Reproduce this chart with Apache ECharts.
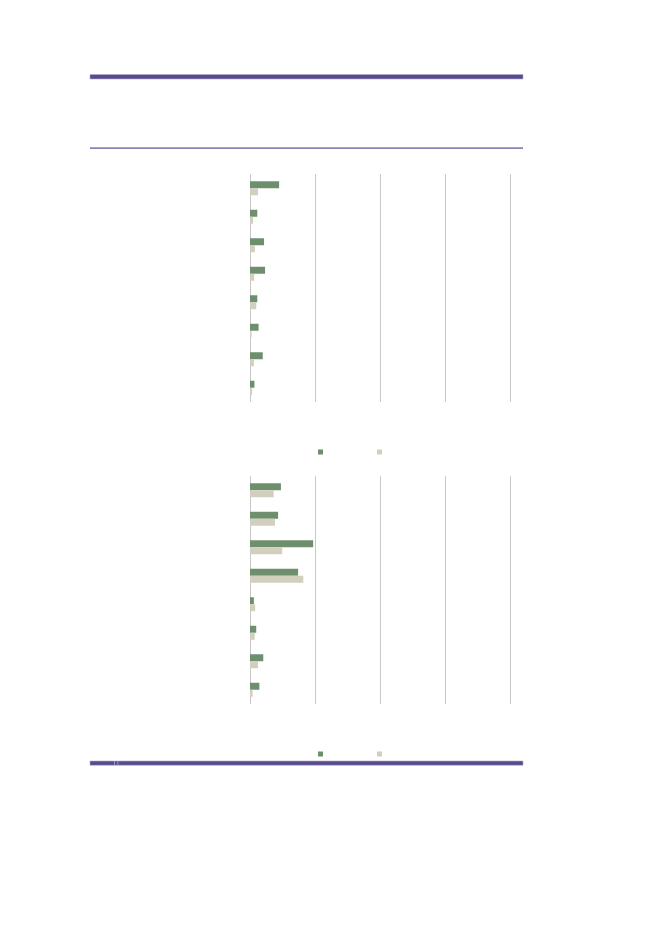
<!DOCTYPE html>
<html>
<head>
<meta charset="utf-8">
<script src="https://cdn.jsdelivr.net/npm/echarts@6/dist/echarts.min.js"></script>
<style>
html,body{margin:0;padding:0;background:#fff;}
#chart{width:661px;height:933px;}
</style>
</head>
<body>
<div id="chart"></div>
<script>
// Categories (labels not shown in the reference)
const categories1 = ['c1','c2','c3','c4','c5','c6','c7','c8'];
const categories2 = ['d1','d2','d3','d4','d5','d6','d7','d8'];
// Panel 1 values
const panel1Green = [11.2, 2.8, 5.4, 5.8, 2.8, 3.3, 4.9, 1.7];
const panel1Beige = [3.1, 1.2, 1.9, 1.6, 2.4, 0.6, 1.5, 0.8];
// Panel 2 values
const panel2Green = [11.9, 10.8, 24.3, 18.5, 1.5, 2.4, 5.1, 3.6];
const panel2Beige = [9.1, 9.6, 12.4, 20.5, 2.0, 1.8, 3.1, 1.0];
// Axis scale
const axisMax = 100;
const axisStep = 25;

const GREEN = '#6e8f6e';
const BEIGE = '#d3cfbe';
const GRID = '#c8c8c8';

function xAxisCfg(gi){
  return {
    gridIndex: gi, type: 'value', min: 0, max: axisMax, interval: axisStep,
    axisLine: {show: false}, axisTick: {show: false}, axisLabel: {show: false},
    splitLine: {show: true, lineStyle: {color: GRID, width: 1}}
  };
}
function yAxisCfg(gi, cats){
  return {
    gridIndex: gi, type: 'category', data: cats, inverse: true,
    axisLine: {show: false}, axisTick: {show: false}, axisLabel: {show: false},
    splitLine: {show: false}
  };
}
function barSeries(name, gi, data, color){
  return {
    name: name, type: 'bar', xAxisIndex: gi, yAxisIndex: gi, data: data,
    barWidth: 7, barGap: '0%', itemStyle: {color: color}, silent: true,
    emphasis: {disabled: true}
  };
}
function legendCfg(top, names){
  return {
    left: 318, top: top, padding: 0, itemWidth: 5, itemHeight: 5, itemGap: 49,
    icon: 'rect', data: names, selectedMode: false,
    formatter: function(){ return ''; },
    textStyle: {fontSize: 5, lineHeight: 5}
  };
}

const chart = echarts.init(document.getElementById('chart'), null, {renderer: 'canvas'});
chart.setOption({
  animation: false,
  backgroundColor: '#fff',
  grid: [
    {left: 250, top: 174, width: 260, height: 228},
    {left: 250, top: 476, width: 260, height: 228}
  ],
  xAxis: [xAxisCfg(0), xAxisCfg(1)],
  yAxis: [yAxisCfg(0, categories1), yAxisCfg(1, categories2)],
  legend: [
    legendCfg(449.5, ['g1','b1']),
    legendCfg(751.5, ['g2','b2'])
  ],
  series: [
    barSeries('g1', 0, panel1Green, GREEN),
    barSeries('b1', 0, panel1Beige, BEIGE),
    barSeries('g2', 1, panel2Green, GREEN),
    barSeries('b2', 1, panel2Beige, BEIGE)
  ],
  graphic: [
    {type: 'rect', shape: {x: 90, y: 74.5, width: 433, height: 4.5}, style: {fill: '#584a8c', stroke: '#b4a9d2', lineWidth: 0.6}, silent: true},
    {type: 'rect', shape: {x: 90, y: 147.3, width: 433, height: 1.8}, style: {fill: '#8f80b4'}, silent: true},
    {type: 'rect', shape: {x: 90, y: 761, width: 433, height: 4.3}, style: {fill: '#584a8c', stroke: '#b4a9d2', lineWidth: 0.6}, silent: true},
    {type: 'rect', shape: {x: 114, y: 761, width: 0.8, height: 4.3}, style: {fill: '#b4a9d2'}, silent: true},
    {type: 'rect', shape: {x: 117.5, y: 761, width: 0.8, height: 4.3}, style: {fill: '#b4a9d2'}, silent: true}
  ]
});
</script>
</body>
</html>
